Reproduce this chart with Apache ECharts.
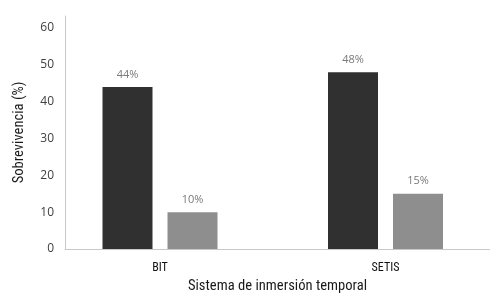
<!DOCTYPE html>
<html>
<head>
<meta charset="utf-8">
<script src="https://cdn.jsdelivr.net/npm/echarts@6/dist/echarts.min.js"></script>
<style>html,body{margin:0;padding:0;background:#fff;}#c{width:490px;height:301px;}</style>
</head>
<body>
<div id="c"></div>
<script>
const categories = ['BIT', 'SETIS'];
const seriesDark = [44, 48];
const seriesLight = [10, 15];
const yTicks = [0, 10, 20, 30, 40, 50, 60];
const xName = 'Sistema de inmersión temporal';
const yName = 'Sobrevivencia (%)';

const chart = echarts.init(document.getElementById('c'), null, {renderer: 'canvas'});
const toPairs = arr => arr.map((v, i) => [i, v]);
const narrow = '"Roboto Condensed", "Liberation Sans Narrow", sans-serif';
const tickFont = '"Open Sans", "Noto Sans", sans-serif';

chart.setOption({
  animation: false,
  backgroundColor: '#fff',
  grid: {left: 65, right: 0, top: 16, bottom: 52, containLabel: false, outerBoundsMode: 'none'},
  xAxis: {
    type: 'value',
    min: -0.4213,
    max: 1.4634,
    name: xName,
    nameLocation: 'middle',
    nameGap: 29,
    nameTextStyle: {fontFamily: narrow, fontSize: 14.6, color: '#1a1a1a'},
    axisLine: {show: true, onZero: false, lineStyle: {color: '#c8c8c8', width: 1}},
    axisTick: {show: false},
    splitLine: {show: false},
    axisLabel: {
      customValues: categories.map((c, i) => i),
      formatter: v => categories[Math.round(v)] || '',
      fontFamily: narrow, fontSize: 12, color: '#111', margin: 13
    }
  },
  yAxis: {
    type: 'value',
    min: 0,
    max: 63.26,
    name: yName,
    nameLocation: 'middle',
    nameGap: 38,
    nameTextStyle: {fontFamily: narrow, fontSize: 14.6, color: '#1a1a1a'},
    axisLine: {show: true, onZero: false, lineStyle: {color: '#c8c8c8', width: 1}},
    axisTick: {show: false},
    splitLine: {show: false},
    axisLabel: {
      customValues: yTicks,
      fontFamily: tickFont, fontSize: 12, color: '#404040', margin: 11
    }
  },
  series: [
    {
      type: 'bar',
      data: toPairs(seriesDark),
      barWidth: 50,
      barGap: '30%',
      itemStyle: {color: '#303030'},
      label: {show: true, position: 'top', distance: 7, formatter: p => p.value[1] + '%',
        fontFamily: tickFont, fontSize: 11, color: '#7a7a7a'}
    },
    {
      type: 'bar',
      data: toPairs(seriesLight),
      barWidth: 50,
      barGap: '30%',
      itemStyle: {color: '#8e8e8e'},
      label: {show: true, position: 'top', distance: 7, formatter: p => p.value[1] + '%',
        fontFamily: tickFont, fontSize: 11, color: '#7a7a7a'}
    }
  ]
});
</script>
</body>
</html>
